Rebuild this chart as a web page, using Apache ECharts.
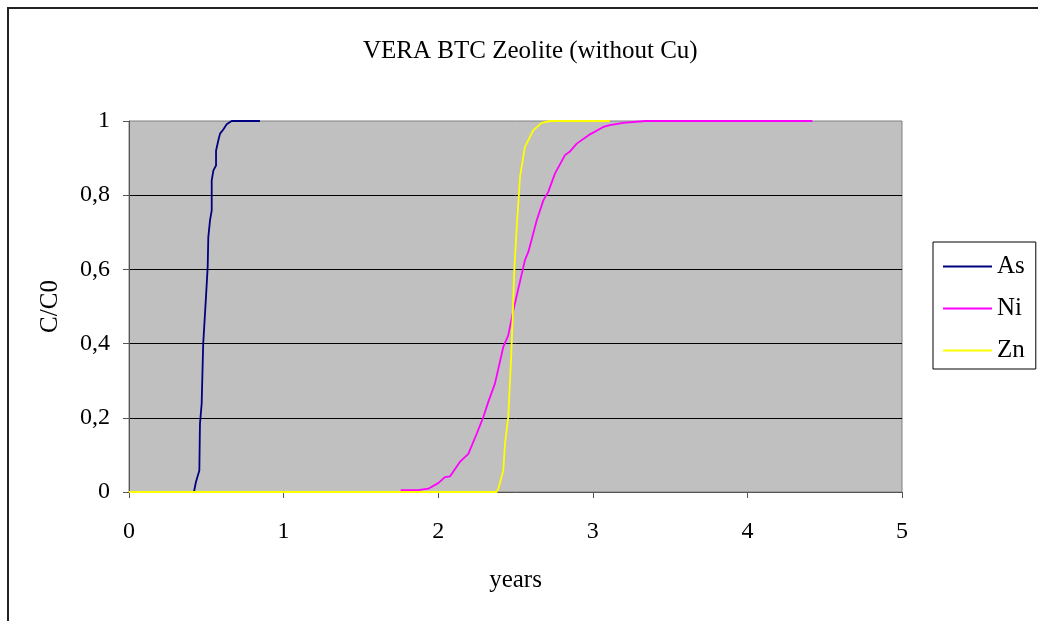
<!DOCTYPE html>
<html>
<head>
<meta charset="utf-8">
<script src="https://cdn.jsdelivr.net/npm/echarts@6/dist/echarts.min.js"></script>
<style>
  html, body { margin: 0; padding: 0; background: #fff; }
  #chart { width: 1038px; height: 621px; }
</style>
</head>
<body>
<div id="chart"></div>
<script>
// breakthrough curves
const asX = [0, 0.42, 0.433, 0.455, 0.459, 0.47, 0.48, 0.498, 0.509, 0.513, 0.524, 0.535, 0.535, 0.535, 0.546, 0.563, 0.563, 0.578, 0.589, 0.61, 0.632, 0.664, 0.847];
const asY = [0, 0, 0.027, 0.058, 0.184, 0.238, 0.40, 0.526, 0.607, 0.687, 0.732, 0.759, 0.804, 0.84, 0.867, 0.88, 0.92, 0.948, 0.966, 0.977, 0.991, 1, 1];

const niX = [1.757, 1.87, 1.88, 1.936, 2.0, 2.044, 2.076, 2.14, 2.195, 2.249, 2.292, 2.324, 2.367, 2.421, 2.453, 2.486, 2.561, 2.583, 2.637, 2.68, 2.712, 2.755, 2.82, 2.85, 2.896, 2.982, 3.068, 3.11, 3.197, 3.34, 4.42];
const niY = [0.005, 0.005, 0.009, 0.009, 0.024, 0.04, 0.042, 0.081, 0.103, 0.157, 0.202, 0.243, 0.292, 0.391, 0.422, 0.49, 0.625, 0.647, 0.732, 0.786, 0.809, 0.858, 0.908, 0.917, 0.939, 0.964, 0.984, 0.989, 0.995, 1, 1];

const znX = [0, 2.378, 2.389, 2.421, 2.432, 2.453, 2.471, 2.482, 2.492, 2.508, 2.518, 2.529, 2.561, 2.615, 2.669, 2.723, 3.11];
const znY = [0, 0, 0.009, 0.058, 0.13, 0.202, 0.355, 0.472, 0.598, 0.714, 0.777, 0.849, 0.93, 0.975, 0.995, 1, 1];

const seriesNames = ['As', 'Ni', 'Zn'];
const seriesColors = ['#000080', '#FF00FF', '#FFFF00'];

const zip = (xs, ys) => xs.map((x, i) => [x, ys[i]]);
const allData = [zip(asX, asY), zip(niX, niY), zip(znX, znY)];

const serif = 'Liberation Serif, Times New Roman, serif';

const chart = echarts.init(document.getElementById('chart'), null, { renderer: 'canvas' });
chart.setOption({
  backgroundColor: '#fff',
  animation: false,
  title: {
    text: 'VERA BTC Zeolite (without Cu)',
    left: 358,
    top: 34,
    textStyle: { fontFamily: serif, fontSize: 25, fontWeight: 'normal', color: '#000' }
  },
  graphic: [{
    type: 'rect',
    shape: { x: 8, y: 8, width: 1200, height: 800 },
    style: { fill: 'none', stroke: '#222', lineWidth: 2 },
    silent: true,
    z: -1
  }],
  legend: {
    orient: 'vertical',
    left: 933,
    top: 242,
    icon: 'rect',
    itemWidth: 49,
    itemHeight: 2,
    itemGap: 17,
    padding: [12, 11, 6, 10],
    backgroundColor: '#fff',
    borderColor: '#000',
    borderWidth: 1,
    textStyle: { fontFamily: serif, fontSize: 25, color: '#000' },
    data: seriesNames
  },
  grid: {
    left: 129,
    right: 136,
    top: 121,
    bottom: 129,
    show: true,
    backgroundColor: '#C0C0C0',
    borderColor: '#808080',
    borderWidth: 1
  },
  xAxis: {
    type: 'value',
    min: 0,
    max: 5,
    interval: 1,
    name: 'years',
    nameLocation: 'middle',
    nameGap: 76,
    nameTextStyle: { fontFamily: serif, fontSize: 25, color: '#000' },
    axisLine: { show: true, lineStyle: { color: '#555', width: 1 } },
    axisTick: { show: true, length: 6, lineStyle: { color: '#555' } },
    axisLabel: { margin: 28, fontFamily: serif, fontSize: 24, color: '#000' },
    splitLine: { show: false }
  },
  yAxis: {
    type: 'value',
    min: 0,
    max: 1,
    interval: 0.2,
    name: 'C/C0',
    nameLocation: 'middle',
    nameGap: 66,
    nameRotate: 90,
    nameTextStyle: { fontFamily: serif, fontSize: 25, color: '#000' },
    axisLine: { show: true, lineStyle: { color: '#555', width: 1 } },
    axisTick: { show: true, length: 6, lineStyle: { color: '#555' } },
    axisLabel: {
      margin: 19,
      fontFamily: serif,
      fontSize: 24,
      color: '#000',
      formatter: v => String(Math.round(v * 10) / 10).replace('.', ',')
    },
    splitLine: { show: true, showMinLine: false, showMaxLine: false, lineStyle: { color: '#000', width: 1 } }
  },
  series: seriesNames.map((name, i) => ({
    name: name,
    type: 'line',
    data: allData[i],
    symbol: 'none',
    showSymbol: false,
    color: seriesColors[i],
    lineStyle: { color: seriesColors[i], width: 1.8 },
    z: 2 + i
  }))
});
</script>
</body>
</html>
